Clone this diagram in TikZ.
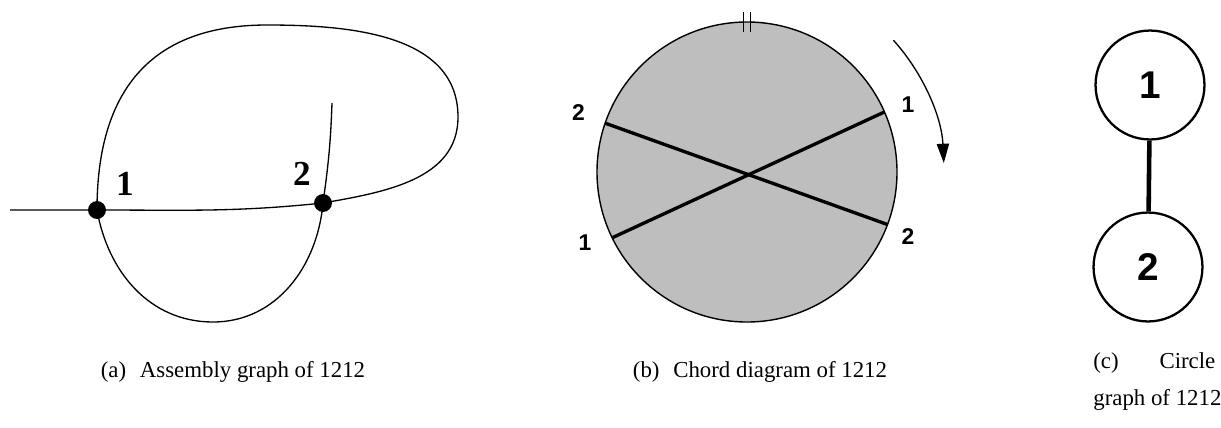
\documentclass[tikz,border=0pt]{standalone}
\usepackage{fontspec}
\setmainfont{Liberation Serif}
\newfontfamily\labelsans{Liberation Sans}
\usetikzlibrary{arrows.meta}

\definecolor{chordfill}{gray}{0.745}

\tikzset{
  strand/.style={line width=0.75pt},
  crossing/.style={circle, fill=black, inner sep=0pt, minimum size=10.2pt},
  serifnum/.style={font=\fontsize{20}{24}\selectfont\bfseries},
  sansnum/.style={font=\labelsans\fontsize{13}{16}\selectfont\bfseries},
  chord/.style={line width=1.9pt},
  cgvertex/.style={circle, draw, line width=1.3pt, minimum size=62pt,
    font=\labelsans\fontsize{22}{26}\selectfont\bfseries},
  subcap/.style={font=\fontsize{13}{21.5}\selectfont},
}

\begin{document}
\begin{tikzpicture}[x=0.02cm, y=-0.02cm]
\useasboundingbox (0,0) rectangle (1221,427);

% assembly graph
\begin{scope}[shift={(0,0)}]
  \coordinate (sL)  at ( 10, 210);
  \coordinate (rgt) at (458, 117);
  \coordinate (tp)  at (267,  25);
  \coordinate (bt)  at (213, 322);
  \coordinate (eT)  at (332, 103);
  \node[crossing] (v1) at ( 97, 210) {};
  \node[crossing] (v2) at (323, 203) {};

  \draw[strand] (sL) -- (v1.center) to[out=0, in=186] (v2.center)
    to[out=10, in=-90] (rgt) to[out=90, in=0] (tp)
    to[out=180, in=90, looseness=1.2] (v1.center)
    to[out=-80, in=180] (bt) to[out=0, in=-95] (v2.center)
    to[out=82, in=-92] (eT);

  \node[serifnum] (l1) at (125, 183.5) {1};
  \node[serifnum] (l2) at (302, 174) {2};
  \node[subcap] (capA) at (233, 372) {(a)\hspace{0.6em}Assembly graph of 1212};
\end{scope}

% chord diagram
\begin{scope}[shift={(747,172)}]
  \coordinate (ctr) at (0,0);
  \filldraw[fill=chordfill, line width=0.8pt] (ctr) circle[radius=150];
  \coordinate (c2a) at (-161:150);
  \coordinate (c1a) at (-23.6:150);
  \coordinate (c2b) at (20.5:150);
  \coordinate (c1b) at (154:150);
  \draw[chord] (c2a) -- (c2b);
  \draw[chord] (c1b) -- (c1a);

  % cut point
  \coordinate (ctA) at (-3.5,-160);
  \coordinate (ctB) at ( 3.5,-160);
  \draw[line width=0.8pt] (ctA) -- ++(0,20);
  \draw[line width=0.8pt] (ctB) -- ++(0,20);

  % reading direction
  \coordinate (dirS) at (-42:197);
  \draw[strand, -{Triangle[length=11pt, width=7pt]}] (dirS)
    arc[start angle=-42, end angle=-2.6, radius=197];

  \node[sansnum] (t2a) at (-168.5, -59) {2};
  \node[sansnum] (t1a) at ( 161, -67) {1};
  \node[sansnum] (t2b) at ( 161,  65) {2};
  \node[sansnum] (t1b) at (-162,  71) {1};
  \node[subcap] (capB) at (13, 200) {(b)\hspace{0.6em}Chord diagram of 1212};
\end{scope}

% circle graph
\begin{scope}[shift={(1149,0)}]
  \node[cgvertex] (n1) at ( 1,  85) {1};
  \node[cgvertex] (n2) at (-1, 267) {2};
  \draw[line width=2.6pt] (n1) -- (n2);
  \node[subcap, align=left, inner sep=0pt, anchor=north west] (capC) at (-56, 352)
    {\makebox[2.44cm][l]{(c)\hfill Circle}\\graph of 1212};
\end{scope}

\end{tikzpicture}
\end{document}
